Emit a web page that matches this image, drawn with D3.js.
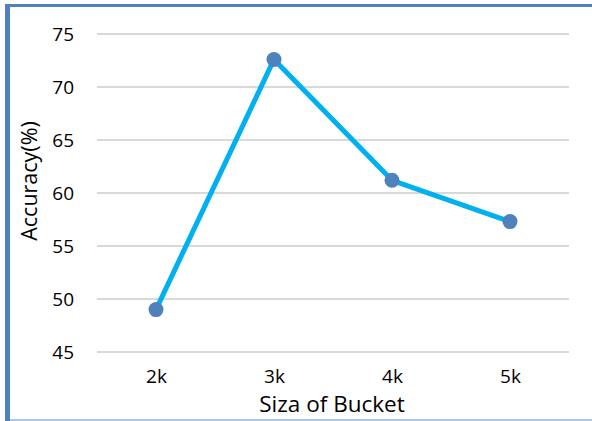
<!DOCTYPE html>
<html>
<head>
<meta charset="utf-8">
<script src="https://cdn.jsdelivr.net/npm/d3@7"></script>
<style>
  html, body { margin: 0; padding: 0; background: #fff; }
  text { font-family: "Open Sans", "Liberation Sans", sans-serif; fill: #000; }
</style>
</head>
<body>
<svg id="chart" width="592" height="421"></svg>
<script>
// Accuracy by bucket size
const categories = ["2k", "3k", "4k", "5k"];
const accuracy = [49.0, 72.6, 61.2, 57.3];
const yTicks = [45, 50, 55, 60, 65, 70, 75];
const xTitle = "Siza of Bucket";
const yTitle = "Accuracy(%)";

const W = 592, H = 421;
const plot = { left: 97, right: 569, top: 34, bottom: 352 };

const svg = d3.select("#chart");

// chart frame: heavy blue left and top edges, faint bottom edge
svg.append("rect").attr("x", 5).attr("y", 4).attr("width", W - 5).attr("height", 3).attr("fill", "#4f81bd");
svg.append("rect").attr("x", 5).attr("y", 4).attr("width", 5).attr("height", H - 4).attr("fill", "#4f81bd");
svg.append("rect").attr("x", 10).attr("y", 419).attr("width", W - 10).attr("height", 2).attr("fill", "#a9c8ea");

const x = d3.scalePoint().domain(categories).range([plot.left, plot.right]).padding(0.5);
const y = d3.scaleLinear().domain([45, 75]).range([plot.bottom, plot.top]);

// horizontal gridlines
svg.append("g")
  .selectAll("line")
  .data(yTicks)
  .join("line")
  .attr("x1", plot.left).attr("x2", plot.right)
  .attr("y1", d => y(d)).attr("y2", d => y(d))
  .attr("stroke", "#d9d9d9").attr("stroke-width", 2);

// y axis labels
const yAxis = d3.axisLeft(y).tickValues(yTicks).tickSize(0).tickPadding(0);
const gy = svg.append("g").attr("transform", "translate(74,0)").call(yAxis);
gy.select(".domain").remove();
gy.selectAll("text").attr("font-size", 19).attr("font-family", "'Open Sans', sans-serif").attr("fill", "#000");

// x axis labels
const xAxis = d3.axisBottom(x).tickSize(0).tickPadding(0);
const gx = svg.append("g").attr("transform", "translate(0,369)").call(xAxis);
gx.select(".domain").remove();
gx.selectAll("text").attr("font-size", 19).attr("font-family", "'Open Sans', sans-serif").attr("fill", "#000");

// axis titles
svg.append("text")
  .attr("x", (plot.left + plot.right) / 2 - 1).attr("y", 412)
  .attr("text-anchor", "middle").attr("font-size", 22.5)
  .text(xTitle);

svg.append("text")
  .attr("transform", "translate(37,181) rotate(-90)")
  .attr("text-anchor", "middle").attr("font-size", 21.5)
  .text(yTitle);

// series line
const line = d3.line().x((d, i) => x(categories[i])).y(d => y(d));
svg.append("path")
  .datum(accuracy)
  .attr("d", line)
  .attr("fill", "none")
  .attr("stroke", "#00b0f0")
  .attr("stroke-width", 5)
  .attr("stroke-linejoin", "round");

// markers
svg.append("g")
  .selectAll("circle")
  .data(accuracy)
  .join("circle")
  .attr("cx", (d, i) => x(categories[i]))
  .attr("cy", d => y(d))
  .attr("r", 7.5)
  .attr("fill", "#4f81bd");
</script>
</body>
</html>
